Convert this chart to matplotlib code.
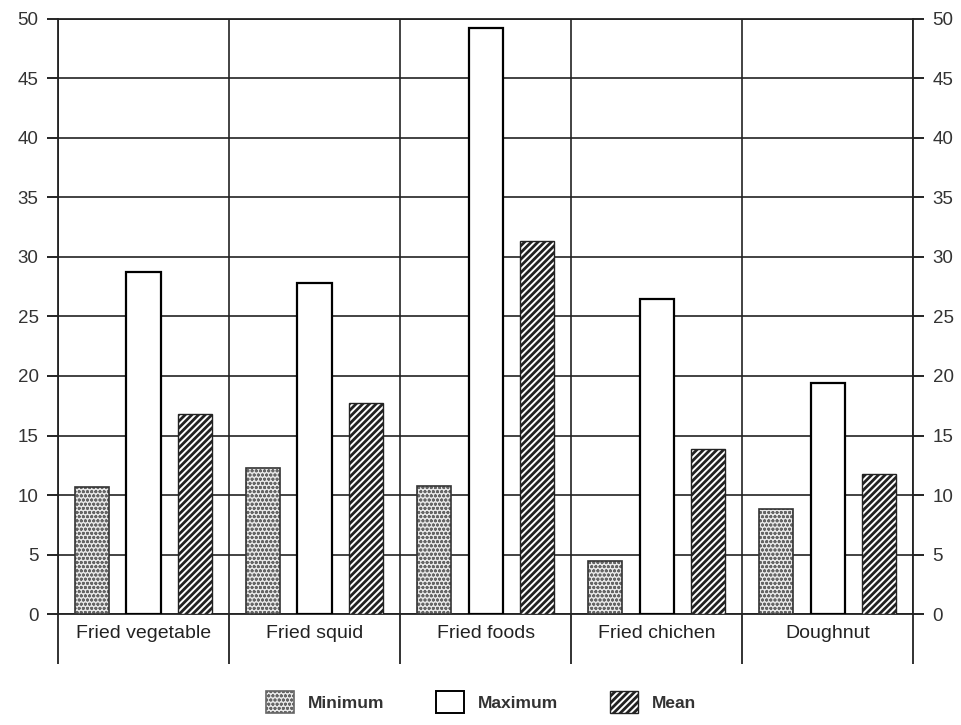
import numpy as np
import matplotlib as mpl
import matplotlib.pyplot as plt

plt.rcParams["font.family"] = ["Liberation Sans", "DejaVu Sans"]
plt.rcParams["hatch.linewidth"] = 2.0

foods = ["Fried vegetable", "Fried squid", "Fried foods", "Fried chichen", "Doughnut"]
minimum = [10.7, 12.3, 10.8, 4.5, 8.8]
maximum = [28.7, 27.8, 49.2, 26.5, 19.4]
mean = [16.8, 17.7, 31.3, 13.9, 11.8]

x = np.arange(len(foods))
w = 0.2

fig = plt.figure(figsize=(9.62, 7.25), dpi=100)
ax = fig.add_axes([0.0603, 0.153, 0.889, 0.821])

# minimum: light dotted fill, then a dark outline on top
with mpl.rc_context({"hatch.linewidth": 0.9}):
    ax.bar(x - 0.3, minimum, w, color="#e8e8e8", edgecolor="#666666",
           hatch="oooo", linewidth=0, zorder=3)
ax.bar(x - 0.3, minimum, w, fill=False, edgecolor="#333333", linewidth=1.2,
       zorder=4)
ax.bar(x, maximum, w, color="white", edgecolor="black", linewidth=1.6, zorder=3)
ax.bar(x + 0.3, mean, w, color="white", edgecolor="#222222", hatch="/////",
       linewidth=1.0, zorder=3)

# legend handles
h_min = plt.Rectangle((0, 0), 1, 1, facecolor="#e8e8e8", edgecolor="#666666",
                      hatch="oooo", linewidth=1.2)
h_max = plt.Rectangle((0, 0), 1, 1, facecolor="white", edgecolor="black",
                      linewidth=1.4)
h_mean = plt.Rectangle((0, 0), 1, 1, facecolor="white", edgecolor="#222222",
                       hatch="/////", linewidth=1.0)

ax.set_xlim(-0.5, len(foods) - 0.5)
ax.set_ylim(0, 50)
ax.set_yticks(np.arange(0, 51, 5))
ax.yaxis.grid(True, color="#222222", linewidth=1.2, zorder=1)

# category separators extend below the axis
ax.set_xticks(np.arange(len(foods) + 1) - 0.5)
ax.set_xticklabels([])
ax.set_xticks(x, minor=True)
ax.set_xticklabels(foods, minor=True, fontsize=14, color="#222222")
ax.tick_params(axis="x", which="major", length=36, width=1.3, color="#222222")
ax.tick_params(axis="x", which="minor", length=0, pad=8)
ax.xaxis.grid(True, which="major", color="#222222", linewidth=1.2, zorder=1)

ax.tick_params(axis="y", which="major", length=8, width=1.2, labelsize=13.5,
               labelcolor="#333333", right=True, labelright=True, pad=6)

for s in ax.spines.values():
    s.set_color("#222222")
    s.set_linewidth(1.3)

leg = fig.legend([h_min, h_max, h_mean], ["Minimum", "Maximum", "Mean"],
                 loc="lower center", ncol=3, frameon=False, fontsize=12.5,
                 handlelength=1.6, handleheight=1.6, columnspacing=3,
                 bbox_to_anchor=(0.5, -0.005))
for t in leg.get_texts():
    t.set_fontweight("bold")
    t.set_color("#333333")
mh = leg.legend_handles[0]
if hasattr(mh, "set_hatch_linewidth"):
    mh.set_hatch_linewidth(0.9)
else:
    mh._hatch_linewidth = 0.9

fig.savefig("out.png", dpi=100)
